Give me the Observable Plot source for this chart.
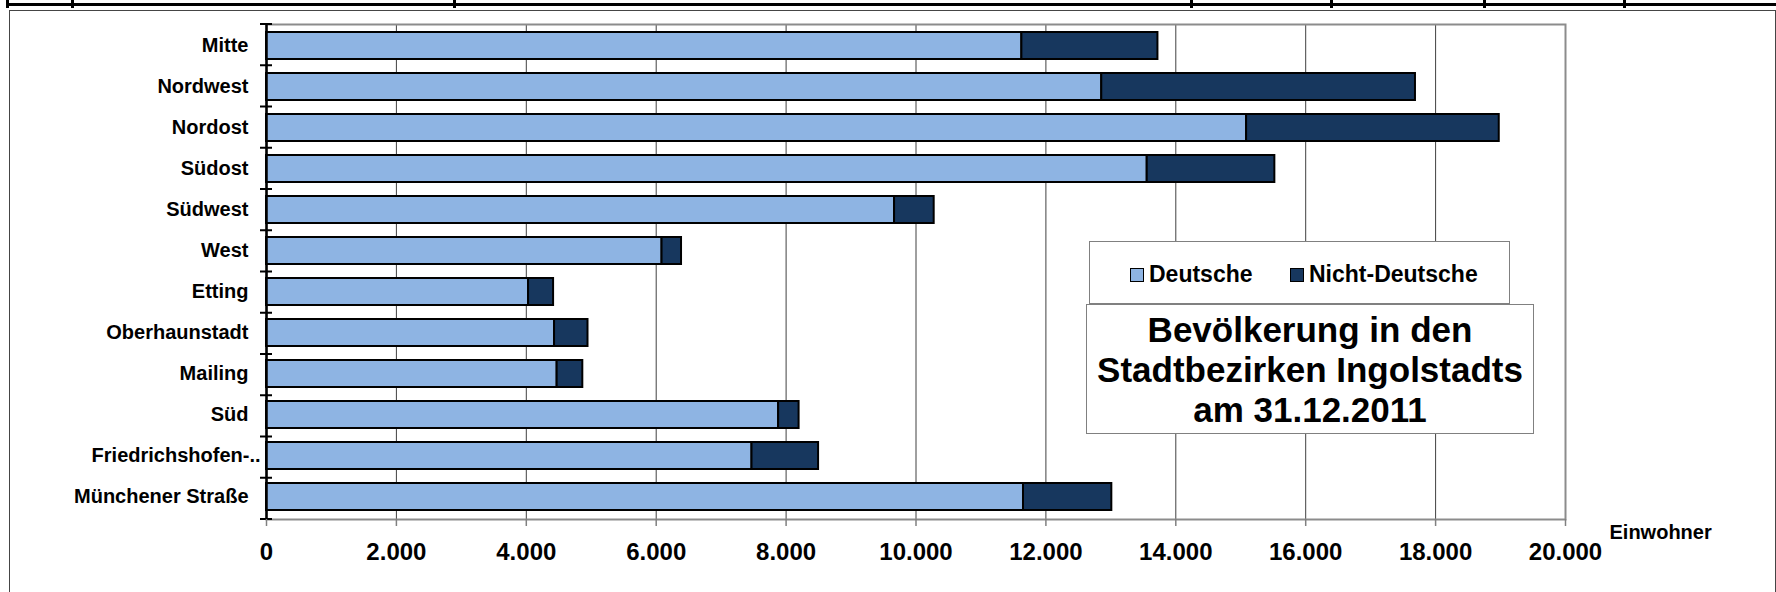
<!DOCTYPE html>
<html><head><meta charset="utf-8">
<script src="https://cdn.jsdelivr.net/npm/d3@7"></script>
<script src="https://cdn.jsdelivr.net/npm/@observablehq/plot@0.6"></script>
<style>
html,body{margin:0;padding:0;background:#fff;}
body{width:1776px;height:592px;position:relative;overflow:hidden;font-family:"Liberation Sans",Arial,sans-serif;font-weight:bold;color:#000;}
#frame{position:absolute;left:9px;top:10px;width:1767px;height:620px;border:1.5px solid #454545;box-sizing:border-box;}
#topline{position:absolute;left:6px;right:0;top:3px;height:3px;background:#000;}
.tk{position:absolute;top:0;width:3px;height:8px;background:#000;}
#chart{position:absolute;left:0;top:0;}
#legend{position:absolute;left:1089px;top:241px;width:421px;height:63px;border:1.5px solid #808080;background:#fff;box-sizing:border-box;}
.li{position:absolute;top:17px;height:30px;line-height:30px;font-size:23px;white-space:nowrap;}
.sw{display:inline-block;width:12px;height:12px;border:1.5px solid #000;margin-right:5px;vertical-align:0px;}
#title{position:absolute;left:1086px;top:304px;width:448px;height:130px;border:1.5px solid #808080;background:#fff;box-sizing:border-box;text-align:center;font-size:35px;line-height:40px;padding-top:5px;}
</style></head>
<body>
<div id="frame"></div>
<div id="topline"></div>
<div class="tk" style="left:6px"></div>
<div class="tk" style="left:71px"></div>
<div class="tk" style="left:453px"></div>
<div class="tk" style="left:1190px"></div>
<div class="tk" style="left:1330px"></div>
<div class="tk" style="left:1483px"></div>
<div class="tk" style="left:1623px"></div>
<div id="chart"></div>
<div id="legend"></div>
<div id="title">Bevölkerung in den<br>Stadtbezirken Ingolstadts<br>am 31.12.2011</div>
<script>
const districts = ["Mitte","Nordwest","Nordost","Südost","Südwest","West","Etting","Oberhaunstadt","Mailing","Süd","Friedrichshofen-..","Münchener Straße"];
const deutsche = [11630,12860,15090,13560,9670,6090,4035,4435,4475,7885,7475,11655];
const nichtDeutsche = [2095,4830,3890,1965,610,300,385,515,395,315,1025,1360];
const groups = ["Deutsche","Nicht-Deutsche"];
const colors = ["#8EB4E3","#17375E"];
const xTicks = [0,2000,4000,6000,8000,10000,12000,14000,16000,18000,20000];
const unitLabel = "Einwohner";

const rows = districts.flatMap((d,i)=>[
  {district:d, group:groups[0], value:deutsche[i]},
  {district:d, group:groups[1], value:nichtDeutsche[i]}
]);
const fmt = d3.formatLocale({decimal:",", thousands:".", grouping:[3], currency:["","€"]}).format(",");
const font = '"Liberation Sans", Arial, sans-serif';
const longLabel = districts[10];

const chart = Plot.plot({
  width:1776, height:592,
  marginLeft:266, marginRight:211, marginTop:24, marginBottom:73,
  style:{fontFamily:font, fontWeight:"bold", color:"#000", background:"none", overflow:"visible"},
  x:{domain:[xTicks[0], xTicks[xTicks.length-1]], axis:null},
  y:{domain:districts, paddingInner:0.34, paddingOuter:0.17, axis:null},
  color:{domain:groups, range:colors},
  marks:[
    Plot.ruleX(xTicks.slice(1), {stroke:"#404040", strokeWidth:1}),
    Plot.frame({stroke:"#8c8c8c", strokeWidth:2}),
    Plot.barX(rows, Plot.stackX({x:"value", y:"district", fill:"group", stroke:"#000", strokeWidth:2, order:groups})),
    Plot.ruleX([xTicks[0]], {stroke:"#000", strokeWidth:2.5}),
    (index, scales, values, dims) => {
      const g = d3.create("svg:g");
      const top = dims.marginTop, bottom = dims.height - dims.marginBottom;
      const n = districts.length;
      const x0 = scales.x(xTicks[0]);
      for (let k = 0; k <= n; k++) {
        const y = top + (bottom - top) * k / n;
        g.append("line").attr("x1", x0 - 6).attr("x2", x0 + 6).attr("y1", y).attr("y2", y)
          .attr("stroke", "#000").attr("stroke-width", 2);
      }
      return g.node();
    },
    Plot.axisX({ticks:xTicks, tickFormat:fmt, tickSize:7, tickPadding:16, fontSize:24, stroke:"#808080", strokeWidth:1.5, fill:"#000", label:null}),
    Plot.text(districts.filter(d=>d!==longLabel), {y:d=>d, text:d=>d, frameAnchor:"left", textAnchor:"end", dx:-18, fontSize:20, fill:"#000"}),
    Plot.text([longLabel], {y:d=>d, text:d=>d, frameAnchor:"left", textAnchor:"end", dx:-6, fontSize:20, fill:"#000"}),
    Plot.text([unitLabel], {x:() => xTicks[xTicks.length-1], text:d=>d, frameAnchor:"bottom", textAnchor:"start", dx:44, dy:19, fontSize:20, fill:"#000"})
  ]
});
document.getElementById("chart").appendChild(chart);

const legend = document.getElementById("legend");
const offsets = [40, 200];
groups.forEach((g,i)=>{
  const item = document.createElement("div");
  item.className = "li";
  item.style.left = offsets[i] + "px";
  const sw = document.createElement("span");
  sw.className = "sw";
  sw.style.background = colors[i];
  item.appendChild(sw);
  item.appendChild(document.createTextNode(g));
  legend.appendChild(item);
});
</script>
</body></html>
